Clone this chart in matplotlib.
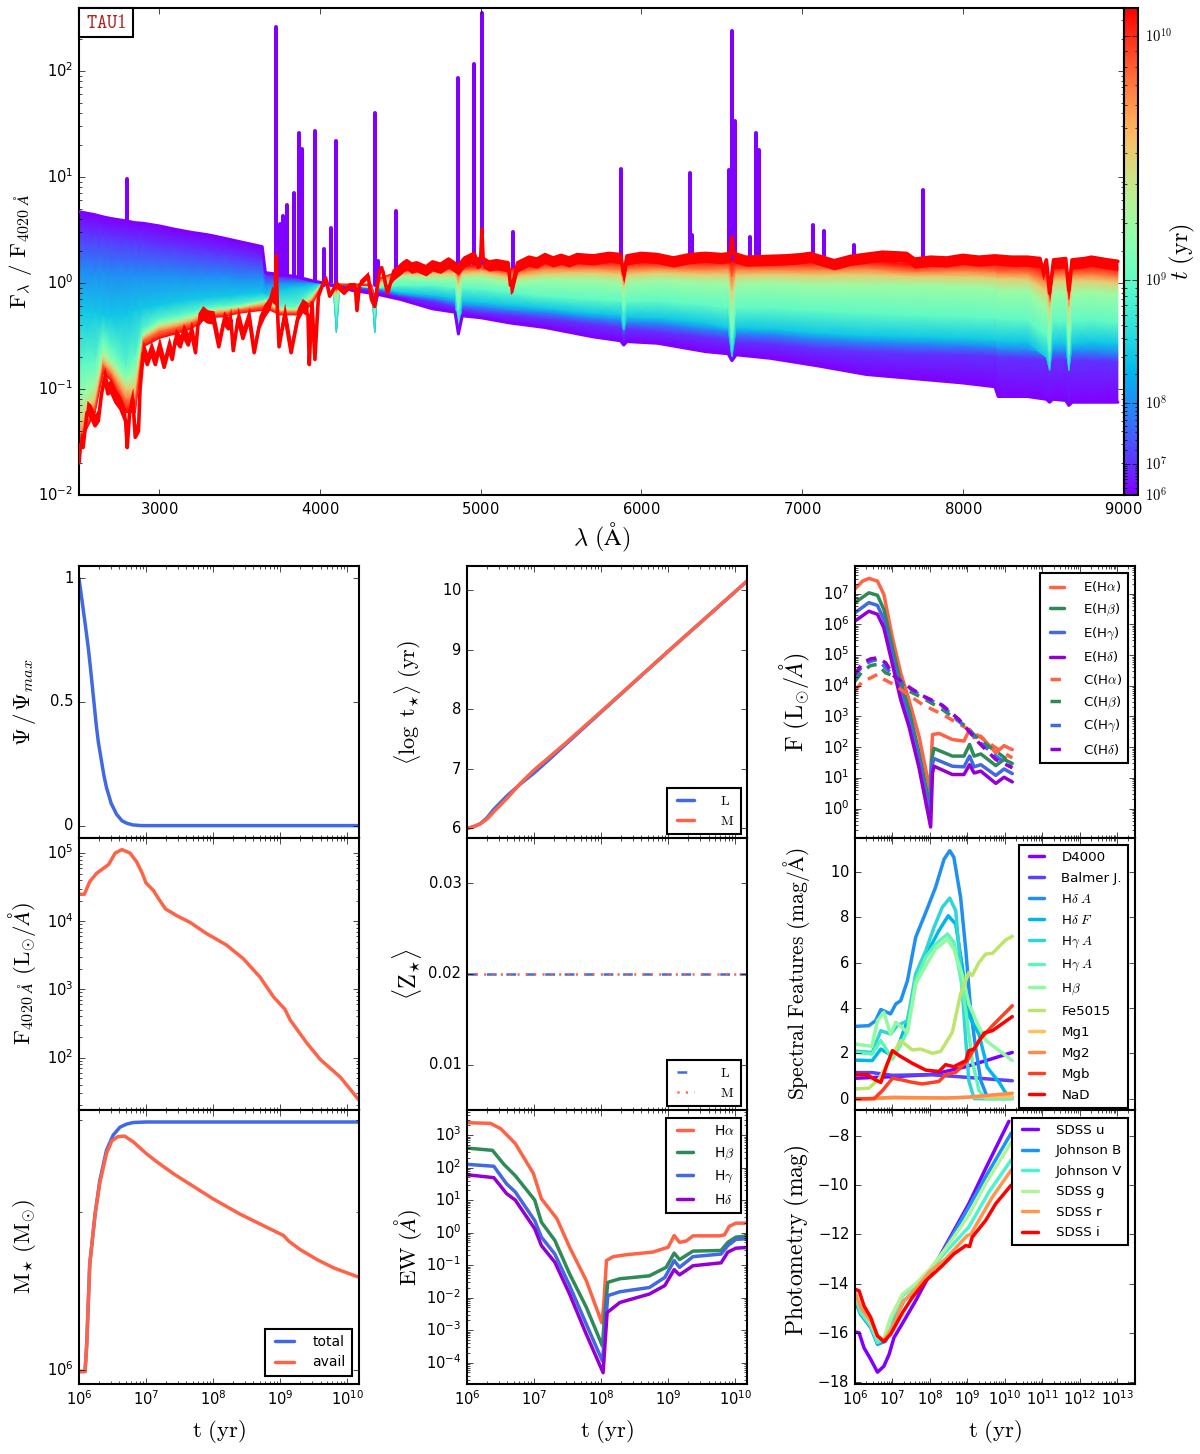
import numpy as np
import matplotlib
matplotlib.use('Agg')
import matplotlib.pyplot as plt
from matplotlib.colors import FuncNorm
from matplotlib.cm import ScalarMappable
from matplotlib.patches import Rectangle
from matplotlib.ticker import LogLocator, NullFormatter, FixedLocator

# ---------------- spectrum data ----------------
WAVE = [2500,2600,2650,2700,2790,2850,2900,3000,3100,3200,
        3300,3400,3500,3640,3660,3750,3850,3950,4020,4080,
        4102,4125,4200,4320,4340,4360,4500,4700,4840,4861,
        4885,5000,5180,5400,5700,5870,5890,5910,6100,6400,
        6540,6563,6590,6800,7100,7400,7700,8000,8200,8220,
        8400,8520,8540,8560,8640,8660,8680,8800,8965]
AGES = [1e6, 1e7, 1e8, 3e8, 1e9, 2e9, 4e9, 7e9, 1.2e10]
F_1E6 = [4.7,4.4,4.2,4.05,3.85,3.7,3.65,3.45,3.2,3.0,
         2.85,2.65,2.45,2.2,1.25,1.2,1.15,1.05,1.0,.95,
         .92,.92,.85,.8,.62,.78,.70,.57,.53,.33,
         .49,.47,.42,.38,.31,.285,.26,.28,.27,.225,
         .215,.185,.21,.195,.165,.137,.125,.114,.105,.085,
         .085,.08,.075,.08,.078,.07,.075,.075,.075]
F_1E7 = [3.0,2.85,2.8,2.7,2.6,2.5,2.45,2.3,2.2,2.1,
         2.0,1.9,1.8,1.65,1.15,1.12,1.1,1.02,1.0,.97,
         .93,.95,.90,.86,.68,.84,.75,.67,.6,.36,
         .56,.53,.5,.46,.41,.38,.33,.37,.35,.31,
         .29,.24,.28,.27,.24,.225,.215,.21,.205,.2,
         .195,.19,.185,.19,.19,.18,.185,.185,.18]
F_1E8 = [1.3,1.25,1.25,1.2,1.2,1.2,1.2,1.2,1.2,1.15,
         1.15,1.15,1.1,1.1,.95,1.0,1.0,1.0,1.0,.98,
         .9,.97,.93,.9,.7,.88,.78,.72,.66,.42,
         .62,.6,.56,.53,.47,.45,.38,.43,.42,.37,
         .35,.27,.34,.33,.3,.28,.27,.26,.25,.24,
         .235,.22,.17,.23,.23,.17,.23,.23,.22]
F_3E8 = [.55,.52,.5,.48,.5,.55,.58,.62,.66,.7,
         .72,.74,.77,.8,.78,.85,.9,.95,1.0,.98,
         .34,.98,.95,.92,.34,.9,.82,.77,.72,.33,
         .68,.66,.62,.58,.52,.5,.36,.48,.47,.42,
         .38,.2,.38,.37,.34,.32,.31,.3,.29,.285,
         .28,.2,.15,.27,.27,.15,.27,.28,.27]
F_1E9 = [.16,.18,.3,.24,.16,.2,.36,.45,.48,.52,
         .58,.6,.62,.68,.7,.6,.6,.8,1.0,.95,
         .5,.95,.95,.9,.5,.9,.95,.95,.9,.55,
         .9,.88,.82,.75,.7,.68,.55,.67,.68,.62,
         .58,.3,.58,.58,.55,.52,.5,.48,.47,.46,
         .45,.32,.22,.44,.44,.22,.44,.45,.42]
F_2E9 = [.08,.11,.22,.18,.12,.14,.33,.41,.44,.48,
         .55,.57,.6,.66,.68,.57,.57,.75,1.0,.95,
         .7,.98,.97,.95,.65,.95,1.15,1.1,1.1,.8,
         1.1,1.12,1.0,1.08,1.05,1.0,.8,1.0,1.05,1.0,
         .98,.55,.98,1.0,.95,.95,.95,.92,.9,.85,
         .85,.6,.4,.8,.8,.4,.8,.82,.78]
F_4E9 = [.045,.08,.19,.16,.1,.1,.31,.38,.41,.45,
         .53,.55,.58,.64,.65,.55,.55,.72,1.0,.95,
         .8,.98,.98,.97,.7,1.0,1.2,1.22,1.22,1.0,
         1.22,1.25,1.12,1.22,1.25,1.2,.95,1.2,1.25,1.2,
         1.2,.85,1.18,1.2,1.18,1.2,1.15,1.15,1.12,1.1,
         1.08,.85,.6,1.05,1.05,.6,1.05,1.05,1.0]
F_7E9 = [.035,.07,.17,.14,.08,.08,.29,.35,.38,.42,
         .5,.52,.56,.6,.62,.53,.53,.68,1.0,.95,
         .85,.98,.98,.97,.72,1.05,1.28,1.32,1.32,1.15,
         1.32,1.35,1.22,1.38,1.38,1.35,1.05,1.35,1.38,1.35,
         1.38,1.15,1.35,1.35,1.35,1.38,1.28,1.32,1.28,1.25,
         1.25,1.05,.75,1.2,1.22,.7,1.2,1.22,1.15]
F_12E9 = [.03,.06,.14,.12,.06,.06,.25,.3,.33,.37,
          .47,.48,.52,.55,.58,.5,.5,.62,1.0,.95,
          .9,.95,.95,.95,.75,1.1,1.3,1.4,1.45,1.3,
          1.45,1.5,1.35,1.65,1.65,1.65,1.15,1.6,1.65,1.65,
          1.65,1.6,1.65,1.6,1.65,1.65,1.5,1.6,1.6,1.55,
          1.55,1.45,.85,1.45,1.5,.8,1.45,1.5,1.45]

OLD_SPECTRUM = [(2500,.02),(2510,.03),(2525,.028),(2550,.06),(2575,.055),(2600,.045),(2620,.05),(2640,.09),(2660,.125),
    (2680,.09),(2700,.095),(2730,.075),(2760,.065),(2790,.05),(2800,.028),(2815,.06),(2835,.08),(2850,.035),
    (2870,.04),(2880,.1),(2900,.22),(2925,.17),(2950,.22),(2975,.17),(3000,.24),(3030,.16),(3060,.24),(3080,.19),(3100,.29),
    (3130,.25),(3150,.32),(3180,.26),(3200,.34),(3225,.22),(3240,.4),(3270,.47),(3300,.43),(3340,.42),(3370,.25),(3400,.42),(3430,.37),
    (3445,.45),(3460,.23),(3490,.46),(3520,.30),(3560,.46),(3590,.22),(3620,.38),(3650,.48),(3680,.56),(3700,.72),
    (3720,.65),(3727,1.8),(3734,.6),(3745,.25),(3780,.5),(3820,.22),(3860,.45),(3890,.55),(3925,.5),(3933,.17),
    (3950,.65),(3968,.19),(3990,.75),(4020,1.0),(4040,1.05),(4060,.75),(4100,.95),(4150,.80),(4180,.9),
    (4220,.9),(4230,.55),(4245,.95),(4300,1.15),(4320,.7),(4340,.6),(4370,1.3),(4390,1.3),(4420,.8),(4460,1.3),
    (4500,1.45),(4520,1.55),(4540,1.62),(4570,1.5),(4600,1.55),(4660,1.42),(4700,1.58),(4750,1.5),(4800,1.68),(4861,1.45),(4900,1.72),
    (4959,1.9),(4975,1.65),(5000,1.72),(5007,3.2),(5015,1.7),(5050,1.58),(5100,1.62),(5170,1.55),(5185,.95),
    (5200,1.0),(5230,1.55),(5300,1.75),(5350,1.68),(5400,1.85),(5450,1.72),(5500,1.82),(5550,1.72),(5600,1.85),
    (5700,1.8),(5800,1.9),(5870,1.85),(5890,1.2),(5910,1.8),(6000,1.9),(6100,1.85),(6200,1.72),(6300,1.85),
    (6400,1.9),(6500,1.85),(6555,1.9),(6563,2.7),(6575,1.9),(6650,1.75),(6800,1.78),(6900,1.8),(7000,1.85),
    (7050,1.9),(7100,1.8),(7200,1.62),(7300,1.78),(7500,1.95),(7650,1.9),(7700,1.68),(7800,1.75),(7900,1.72),
    (8000,1.82),(8100,1.75),(8200,1.8),(8300,1.75),(8400,1.75),(8480,1.7),(8500,1.3),(8520,1.65),(8540,.8),(8565,1.65),
    (8640,1.7),(8660,.85),(8680,1.65),(8760,1.7),(8800,1.75),(8900,1.65),(8965,1.6)]

LINE_WAVE = [2800,3727,3752,3771,3797,3835,3869,3889,3970,4026,4069,4102,4340,4363,4471,4861,4959,5007,5200,
             5876,6300,6312,6548,6563,6584,6678,6716,6731,7065,7136,7325,7751]
LINE_PEAK = [9.5,260,3.6,4.3,5.4,7,26,18.5,27,2.1,3.3,22,40,1.6,4.8,85,115,350,3.0,
             12,11,2.85,11.7,240,34,2.7,26,18,3.5,3.1,2.3,7.5]

# ---------------- time panels (pairs of log10 t, value) ----------------
SFH = [(6.0,1.0),(6.05,.9),(6.1,.8),(6.14,.715),(6.17,.64),(6.2,.56),(6.23,.48),(6.26,.40),(6.29,.335),(6.33,.27),(6.37,.205),(6.41,.154),(6.48,.09),
       (6.56,.046),(6.64,.02),(6.71,.01),(6.8,.003),(6.91,.0005),(7.0,0),(8.0,0),(10.18,0)]
LOG_F4020 = [(6.0,4.395),(6.08,4.395),(6.16,4.58),(6.26,4.70),(6.44,4.83),(6.54,5.0),(6.64,5.05),(6.76,5.0),
             (6.86,4.87),(6.94,4.71),(7.0,4.56),(7.11,4.45),(7.18,4.34),(7.29,4.18),(7.46,4.08),(7.66,3.98),
             (7.9,3.82),(8.2,3.65),(8.45,3.45),(8.7,3.18),(8.9,2.89),(9.07,2.71),(9.15,2.55),(9.4,2.21),
             (9.6,1.97),(9.9,1.71),(10.18,1.37)]
LOG_M_TOTAL = [(6.0,5.997),(6.09,5.997),(6.115,6.048),(6.16,6.202),(6.24,6.298),(6.31,6.362),(6.41,6.420),
               (6.51,6.449),(6.61,6.464),(6.71,6.470),(6.81,6.473),(7.0,6.474),(10.18,6.474)]
LOG_M_AVAIL = [(6.0,5.997),(6.09,5.997),(6.115,6.048),(6.16,6.202),(6.24,6.298),(6.31,6.357),(6.41,6.414),
               (6.49,6.438),(6.58,6.446),(6.68,6.447),(6.81,6.436),(7.0,6.414),(7.16,6.398),(7.41,6.375),
               (8.0,6.327),(8.4,6.298),(9.05,6.257),(9.13,6.246),(9.3,6.230),(9.55,6.211),(9.8,6.195),(10.18,6.177)]
LOGT_L = [(6.0,6.0),(6.1,6.03),(6.2,6.08),(6.3,6.18),(6.4,6.32),(6.6,6.55),(6.8,6.75),(7.0,6.93),(7.2,7.13),
          (7.5,7.44),(8.0,7.95),(9.0,8.97),(10.18,10.15)]
LOGT_M = [(6.0,6.0),(6.1,6.03),(6.2,6.08),(6.3,6.16),(6.4,6.28),(6.6,6.51),(6.8,6.76),(7.0,6.98),(7.2,7.17),
          (7.5,7.46),(8.0,7.96),(9.0,8.97),(10.18,10.15)]
Z_L = [(6.0,.02),(10.18,.02)]
Z_M = [(6.0,.02),(10.18,.02)]

EW_HA = [(6.0,3.38),(6.35,3.36),(6.5,3.2),(6.72,2.74),(6.99,1.82),(7.11,1.04),(7.34,.43),(7.53,-.45),(7.78,-1.48),
         (8.01,-2.77),(8.04,-2.2),(8.08,-.86),(8.18,-.74),(8.38,-.68),(8.77,-.6),(9.0,-.45),(9.09,-.09),(9.17,-.3),
         (9.27,-.26),(9.37,-.1),(9.76,-.1),(9.84,-.07),(9.91,.19),(10.01,.29),(10.16,.29)]
EW_HB = [(6.0,2.6),(6.38,2.53),(6.55,2.1),(6.72,1.75),(7.01,1.0),(7.11,.32),(7.31,-.24),(7.53,-1.27),(7.78,-2.3),
         (8.02,-3.49),(8.05,-2.6),(8.1,-1.53),(8.28,-1.42),(8.72,-1.33),(8.97,-1.07),(9.09,-.63),(9.17,-.83),
         (9.37,-.57),(9.79,-.55),(9.89,-.3),(10.01,-.14),(10.16,-.11)]
EW_HG = [(6.0,2.1),(6.4,2.04),(6.59,1.5),(6.72,1.25),(7.01,.37),(7.11,-.14),(7.31,-.66),(7.53,-1.63),(7.78,-2.82),
         (8.02,-3.95),(8.05,-3.23),(8.1,-1.94),(8.28,-1.82),(8.72,-1.69),(8.95,-1.38),(9.09,-.86),(9.17,-1.07),
         (9.37,-.74),(9.79,-.66),(9.89,-.4),(10.01,-.21),(10.16,-.19)]
EW_HD = [(6.0,1.78),(6.4,1.69),(6.59,1.2),(6.72,1.0),(7.01,.12),(7.11,-.4),(7.31,-.91),(7.53,-1.89),(7.78,-3.13),
         (8.03,-4.31),(8.09,-2.46),(8.28,-2.15),(8.72,-1.89),(8.95,-1.63),(9.09,-1.14),(9.17,-1.3),(9.37,-1.02),
         (9.79,-.93),(9.89,-.6),(10.01,-.48),(10.16,-.46)]

E_HA = [(6.0,7.16),(6.2,7.41),(6.37,7.5),(6.6,7.41),(6.77,6.98),(7.0,5.57),(7.22,4.42),(7.44,3.55),(7.71,2.35),
        (7.98,.73),(8.0,.62),(8.07,2.41),(8.24,2.45),(8.6,2.25),(8.91,2.2),(9.06,2.58),(9.18,2.31),(9.36,2.36),
        (9.76,1.82),(9.98,2.05),(10.2,1.92)]
E_HB = [(6.0,6.71),(6.37,7.03),(6.6,6.95),(6.77,6.49),(7.0,5.24),(7.22,4.1),(7.44,3.23),(7.71,1.82),(8.0,.08),
        (8.05,1.6),(8.11,1.96),(8.6,1.71),(8.91,1.71),(9.06,2.09),(9.18,1.71),(9.36,1.78),(9.76,1.4),(9.98,1.6),(10.2,1.47)]
E_HG = [(6.0,6.38),(6.37,6.71),(6.6,6.62),(6.77,6.16),(7.0,4.97),(7.22,3.83),(7.44,2.96),(7.71,1.6),(8.0,-.25),
        (8.05,1.38),(8.11,1.63),(8.6,1.38),(8.91,1.36),(9.06,1.71),(9.18,1.36),(9.36,1.43),(9.76,1.08),(9.98,1.29),(10.2,1.14)]
E_HD = [(6.0,6.11),(6.37,6.43),(6.6,6.33),(6.77,5.89),(7.0,4.7),(7.22,3.55),(7.44,2.68),(7.71,1.33),(8.02,-.6),
        (8.07,1.16),(8.11,1.38),(8.6,1.11),(8.91,1.11),(9.06,1.43),(9.18,1.16),(9.36,1.22),(9.76,.82),(9.98,1.02),(10.2,.87)]
C_HA = [(6.0,3.83),(6.2,4.15),(6.37,4.23),(6.6,4.37),(6.77,4.21),(7.04,4.04),(7.35,3.77),(7.8,3.39),(8.33,3.07),
        (8.96,2.63),(9.31,2.36),(9.76,1.98),(10.2,1.65)]
C_HB = [(6.0,4.15),(6.2,4.48),(6.42,4.66),(6.6,4.7),(6.82,4.42),(7.04,4.32),(7.44,3.83),(7.8,3.61),(8.33,3.23),
        (8.96,2.68),(9.31,2.25),(9.76,1.87),(10.2,1.47)]
C_HG = [(6.0,4.32),(6.2,4.66),(6.42,4.8),(6.6,4.86),(6.82,4.59),(7.04,4.32),(7.44,3.93),(7.8,3.66),(8.33,3.34),
        (8.78,2.85),(9.31,2.18),(9.76,1.71),(10.2,1.33)]
C_HD = [(6.0,4.37),(6.2,4.75),(6.42,4.88),(6.6,4.91),(6.82,4.75),(7.04,4.32),(7.44,3.96),(7.8,3.68),(8.33,3.37),
        (8.78,2.9),(9.31,2.14),(9.76,1.6),(10.2,1.33)]

D4000 = [(6.0,.9),(7.0,.97),(7.98,1.06),(8.42,1.2),(8.96,1.41),(9.5,1.68),(10.2,2.04)]
BALMER = [(6.0,1.15),(6.46,1.15),(7.0,1.03),(7.98,1.06),(8.6,.99),(9.31,.9),(10.2,.79)]
HD_A = [(6.0,3.19),(6.37,3.22),(6.55,3.44),(6.69,3.93),(6.95,3.74),(7.09,4.18),(7.22,4.32),(7.4,5.2),(7.62,7.12),
        (7.89,8.22),(8.15,9.32),(8.38,10.57),(8.53,10.94),(8.64,10.65),(8.82,8.88),(8.96,6.53),(9.09,3.88),
        (9.22,2.26),(9.36,.79),(9.5,.2)]
HD_F = [(6.0,1.7),(6.46,1.68),(6.69,2.19),(6.91,1.97),(7.09,2.04),(7.4,3.44),(7.67,5.5),(7.98,6.6),(8.24,7.41),
        (8.49,8.07),(8.69,7.7),(8.87,5.79),(9.04,3.66),(9.31,2.85),(9.53,1.38),(9.85,.72),(10.07,.13)]
HG_A = [(6.0,2.1),(6.46,2.04),(6.69,3.0),(6.95,2.85),(7.13,3.22),(7.4,3.44),(7.62,5.5),(7.89,6.53),(8.11,7.56),
        (8.33,8.44),(8.53,8.85),(8.69,8.29),(8.82,5.79),(8.96,2.56),(9.04,.79),(9.18,0),(10.2,0)]
HG_A2 = [(6.0,2.04),(6.46,1.97),(6.69,2.56),(7.0,1.75),(7.18,2.26),(7.4,3.0),(7.62,5.2),(7.89,6.24),(8.15,6.82),
         (8.47,7.26),(8.64,6.9),(8.82,5.35),(8.96,3.88),(9.13,1.68),(9.31,.35),(9.5,0),(10.2,0)]
H_BETA = [(6.0,2.41),(6.45,2.31),(6.6,3.44),(6.77,3.81),(6.95,2.85),(7.09,3.37),(7.4,2.93),(7.62,5.06),(7.89,5.87),
          (8.15,6.6),(8.47,7.04),(8.64,6.6),(8.87,5.43),(9.04,4.18),(9.27,3.29),(9.5,2.56),(10.2,1.68)]
FE5015 = [(6.0,.43),(6.37,.46),(6.64,.87),(6.86,1.53),(7.09,2.19),(7.22,2.56),(7.53,2.15),(7.75,2.19),(8.07,2.0),
          (8.29,2.09),(8.6,2.93),(8.82,4.62),(9.04,5.57),(9.13,5.43),(9.31,6.01),(9.49,6.38),(9.67,6.41),(10.02,7.0),(10.2,7.16)]
MG1 = [(6.0,-.03),(7.0,.03),(8.42,.03),(8.96,.06),(10.2,.09)]
MG2 = [(6.0,-.03),(7.0,.06),(8.42,.03),(8.96,.06),(10.2,.24)]
MGB = [(6.0,0),(6.51,0),(6.73,.35),(7.0,.9),(7.22,.84),(7.53,.72),(7.8,.65),(8.24,.76),(8.42,1.06),(8.69,1.16),
       (9.0,1.68),(9.31,2.56),(9.67,3.22),(10.2,4.1)]
NAD = [(6.0,1.06),(6.33,1.06),(6.55,.82),(6.69,.72),(6.86,1.53),(7.0,2.12),(7.18,1.9),(7.53,1.56),(7.89,1.26),
       (8.24,1.2),(8.42,1.5),(8.64,1.41),(8.96,1.68),(9.04,2.12),(9.18,2.19),(9.45,2.9),(9.67,3.0),(10.2,3.62)]

U_MAG = [(6.0,-15.96),(6.11,-15.99),(6.24,-16.6),(6.42,-17.07),(6.6,-17.59),(6.77,-17.35),(6.91,-16.87),(7.04,-16.19),
         (7.31,-15.5),(7.62,-14.69),(7.98,-13.67),(8.42,-12.45),(9.04,-10.75),(9.49,-9.32),(10.11,-7.41)]
B_MAG = [(6.0,-14.69),(6.15,-15.24),(6.42,-15.78),(6.6,-16.46),(6.82,-16.33),(7.04,-15.5),(7.31,-14.69),(7.62,-14.25),
         (7.98,-13.6),(8.42,-12.52),(9.04,-10.88),(9.49,-9.66),(10.17,-7.89)]
V_MAG = [(6.0,-14.49),(6.15,-15.17),(6.42,-15.71),(6.6,-16.39),(6.82,-16.19),(7.0,-15.37),(7.27,-14.49),(7.62,-14.08),
         (7.98,-13.47),(8.42,-12.72),(9.04,-11.7),(9.58,-10.27),(10.17,-8.98)]
G_MAG = [(6.0,-14.42),(6.15,-14.97),(6.42,-15.58),(6.6,-16.19),(6.77,-16.26),(6.95,-15.37),(7.27,-14.42),(7.62,-14.01),
         (7.98,-13.44),(8.42,-12.58),(9.04,-11.22),(9.49,-9.93),(10.17,-8.27)]
R_MAG = [(6.0,-14.35),(6.15,-14.97),(6.42,-15.51),(6.6,-16.12),(6.77,-16.3),(7.0,-15.78),(7.27,-14.76),(7.62,-14.22),
         (7.98,-13.54),(8.42,-12.99),(9.0,-12.04),(9.09,-12.0),(9.67,-10.48),(10.17,-9.39)]
I_MAG = [(6.0,-14.22),(6.11,-14.29),(6.24,-14.9),(6.42,-15.37),(6.6,-16.12),(6.77,-16.35),(6.95,-16.05),(7.27,-15.17),
         (7.53,-14.56),(7.89,-13.88),(8.33,-13.27),(8.64,-12.79),(8.96,-12.45),(9.06,-12.49),(9.13,-12.11),(9.49,-11.43),
         (9.76,-10.75),(10.17,-10.0)]

COL_TOM, COL_SEA, COL_ROY, COL_VIO = '#ff6347', '#2e8b57', '#4169e1', '#9400d3'
FEAT_COLORS = ['#8000ff','#5a40ff','#2090f0','#00b8e8','#30d5d8','#60f5b8','#90faa0','#bde56b','#ffc060','#ff8c4f','#ff4020','#ff0000']
PHOT_COLORS = ['#8000ff','#1996f3','#4df3ce','#b2f396','#ff964f','#ff0000']

# ---------------- figure ----------------
plt.style.use('classic')
plt.rcParams.update({
    'figure.dpi': 100, 'savefig.dpi': 100, 'figure.facecolor': 'white', 'savefig.facecolor': 'white',
    'mathtext.fontset': 'cm', 'axes.linewidth': 1.5, 'font.family': 'DejaVu Sans',
    'xtick.labelsize': 10.6, 'ytick.labelsize': 10.6, 'xtick.major.size': 4.5, 'ytick.major.size': 4.5,
    'xtick.minor.size': 2.5, 'ytick.minor.size': 2.5, 'lines.solid_capstyle': 'round',
    'legend.numpoints': 2, 'axes.formatter.use_mathtext': True,
})
W, H = 1200, 1454
fig = plt.figure(figsize=(W/100, H/100))

def px_axes(x0, y0, x1, y1):
    return fig.add_axes([x0/W, 1-y1/H, (x1-x0)/W, (y1-y0)/H])

def xy(pairs):
    a = np.array(pairs, dtype=float)
    return 10.0**a[:, 0], a[:, 1]

def logy(pairs):
    a = np.array(pairs, dtype=float)
    return 10.0**a[:, 0], 10.0**a[:, 1]

def log_ticks(axis):
    axis.set_major_locator(LogLocator(base=10, numticks=60))
    axis.set_minor_locator(LogLocator(base=10, subs=np.arange(2, 10), numticks=60))
    axis.set_minor_formatter(NullFormatter())

LABEL = 16.5
age_norm = FuncNorm((lambda a: np.asarray(a, float)**0.3, lambda v: np.asarray(v, float)**(1/0.3)), vmin=1e6, vmax=1.2e10)
cmap = plt.get_cmap('rainbow')

# top spectrum panel
ax = px_axes(79, 8, 1123.5, 495)
ax.set_yscale('log')
ax.vlines(LINE_WAVE, 0.95, LINE_PEAK, colors=[cmap(0.0)], lw=2.9, capstyle='round', zorder=1)
levels = np.array([F_1E6, F_1E7, F_1E8, F_3E8, F_1E9, F_2E9, F_4E9, F_7E9, F_12E9])
X = np.tile(np.array(WAVE, float), (len(AGES), 1))
C = np.tile(np.array(AGES)[:, None], (1, len(WAVE)))
ax.pcolormesh(X, levels, C, shading='gouraud', cmap=cmap, norm=age_norm, zorder=2)
ax.plot(WAVE, F_1E6, color=cmap(0.0), lw=2.2, zorder=3)
ox, oy = np.array(OLD_SPECTRUM, dtype=float).T
# the oldest spectrum is a thick red band: it widens upward on the blue side and downward on the red side
band = np.where(ox < 3950, 1.3, np.where(ox < 4450, 1.12, 0.82))
ax.fill_between(ox, oy, oy*band, color='#ff0000', lw=0, zorder=4)
ax.plot(ox, oy, color='#ff0000', lw=2.6, zorder=4)
ax.set_xlim(2500, 9000)
ax.set_ylim(0.01, 392)
ax.set_xticks([3000, 4000, 5000, 6000, 7000, 8000, 9000])
log_ticks(ax.yaxis)
ax.set_xlabel(r'$\lambda\ (\mathrm{\AA})$', fontsize=LABEL+1)
ax.xaxis.set_label_coords(0.5, -0.054)
ax.set_ylabel(r'$\mathrm{F}_{\lambda}\ /\ \mathrm{F}_{4020\ \AA}$', fontsize=LABEL)
ax.yaxis.set_label_coords(-0.043, 0.5)
ax.add_patch(Rectangle((0, 1-29/487), 54/1044.5, 29/487, transform=ax.transAxes, fc='white', ec='black', lw=1.5, zorder=10, clip_on=False))
ax.text(27/1044.5, 1-14.5/487, r'$\mathtt{TAU1}$', transform=ax.transAxes, color='#b22222', fontsize=14, ha='center', va='center', zorder=11)

# colorbar
cax = px_axes(1124, 8, 1138, 495)
cb = fig.colorbar(ScalarMappable(norm=age_norm, cmap=cmap), cax=cax)
cb.set_ticks([1e6, 1e7, 1e8, 1e9, 1e10])
cb.set_ticklabels([r'$10^{6}$', r'$10^{7}$', r'$10^{8}$', r'$10^{9}$', r'$10^{10}$'])
cax.yaxis.set_minor_locator(FixedLocator([m*10**d for d in range(6, 11) for m in range(2, 10) if m*10**d <= 1.2e10]))
cax.yaxis.set_minor_formatter(NullFormatter())
cax.tick_params(axis='y', which='both', direction='in', right=True, left=True, labelsize=10.5, pad=5)
cax.set_ylabel(r'$t\ (\mathrm{yr})$', fontsize=LABEL+1)
cax.yaxis.set_label_coords(3.15, 0.5)
cb.outline.set_linewidth(1.5)

COLS = [(79, 359), (467, 747), (855, 1135)]
ROWS = [(566, 838), (838, 1110), (1110, 1384)]

def panel(col, row):
    x0, x1 = COLS[col]
    y0, y1 = ROWS[row]
    a = px_axes(x0, y0, x1, y1)
    a.set_xscale('log')
    a.set_xlim(1e6, 3e13 if col == 2 else 1.5e10)
    log_ticks(a.xaxis)
    if row < 2:
        a.tick_params(axis='x', labelbottom=False)
    else:
        a.set_xlabel(r'$\mathrm{t\ (yr)}$', fontsize=LABEL)
        a.xaxis.set_label_coords(0.5, -0.123)
    a.yaxis.set_label_coords(-0.147 if col == 0 else (-0.155 if col == 1 else -0.152), 0.5)
    return a

def legend(a, right, top, fs=9.0, spacing=0.62, hl=2.0, pad=0.45, tp=1.1):
    return a.legend(loc='upper right', bbox_to_anchor=(right/W, 1-top/H), bbox_transform=fig.transFigure,
                    borderaxespad=0, fontsize=fs, labelspacing=spacing, handlelength=hl, borderpad=pad,
                    handletextpad=tp, fancybox=False, framealpha=1, edgecolor='black').get_frame().set_linewidth(1.5)

LW = 2.5
# col 0
a = panel(0, 0)
t, v = xy(SFH); a.plot(t, v, color=COL_ROY, lw=LW)
a.set_ylim(-0.05, 1.05); a.set_yticks([0, 0.5, 1]); a.set_yticklabels(['0', '0.5', '1'])
a.set_ylabel(r'$\Psi\,/\,\Psi_{max}$', fontsize=LABEL)

a = panel(0, 1)
t, v = logy(LOG_F4020); a.plot(t, v, color=COL_TOM, lw=LW)
a.set_yscale('log'); a.set_ylim(17, 1.66e5); log_ticks(a.yaxis)
a.set_ylabel(r'$\mathrm{F}_{4020\ \AA}\ (\mathrm{L}_{\odot}/\AA)$', fontsize=LABEL)

a = panel(0, 2)
t, v = logy(LOG_M_TOTAL); a.plot(t, v, color=COL_ROY, lw=LW, label='total')
t, v = logy(LOG_M_AVAIL); a.plot(t, v, color=COL_TOM, lw=LW, label='avail')
a.set_yscale('log'); a.set_ylim(9.4e5, 3.14e6)
a.yaxis.set_major_locator(LogLocator(base=10, numticks=10))
a.yaxis.set_minor_locator(FixedLocator([2e6, 3e6])); a.yaxis.set_minor_formatter(NullFormatter())
a.set_ylabel(r'$\mathrm{M}_{\star}\ (\mathrm{M}_{\odot})$', fontsize=LABEL)
legend(a, 352, 1329, fs=10, spacing=0.45, hl=2.0, tp=1.0)

# col 1
a = panel(1, 0)
t, v = xy(LOGT_L); a.plot(t, v, color=COL_ROY, lw=LW, label=r'$\mathrm{L}$')
t, v = xy(LOGT_M); a.plot(t, v, color=COL_TOM, lw=LW, label=r'$\mathrm{M}$')
a.set_ylim(5.84, 10.4); a.set_yticks([6, 7, 8, 9, 10])
a.set_ylabel(r'$\langle\mathrm{\log\ t}_{\star}\rangle\ (\mathrm{yr})$', fontsize=LABEL-0.5)
legend(a, 740.7, 787.5, fs=10, spacing=0.42, hl=1.8, tp=1.6)

a = panel(1, 1)
t, v = xy(Z_L); a.plot(t, v, color=COL_ROY, lw=LW-0.7, ls=(0, (7, 7)), label=r'$\mathrm{L}$')
t, v = xy(Z_M); a.plot(t, v, color=COL_TOM, lw=LW-0.7, ls=(0, (1.5, 4.5)), label=r'$\mathrm{M}$')
a.set_ylim(0.005, 0.035); a.set_yticks([0.01, 0.02, 0.03]); a.set_yticklabels(['0.01', '0.02', '0.03'])
a.set_ylabel(r'$\langle\mathrm{Z}_{\star}\rangle$', fontsize=LABEL+1)
legend(a, 740.7, 1060, fs=10, spacing=0.42, hl=1.8, tp=1.6)

a = panel(1, 2)
for s, c, l in [(EW_HA, COL_TOM, r'H$\alpha$'), (EW_HB, COL_SEA, r'H$\beta$'), (EW_HG, COL_ROY, r'H$\gamma$'), (EW_HD, COL_VIO, r'H$\delta$')]:
    t, v = logy(s); a.plot(t, v, color=c, lw=LW, label=l)
a.set_yscale('log'); a.set_ylim(2.2e-5, 5900); log_ticks(a.yaxis)
a.set_ylabel(r'$\mathrm{EW}\ (\AA)$', fontsize=LABEL)
legend(a, 740.7, 1118, fs=10, spacing=0.52, hl=1.75, tp=1.2)

# col 2
a = panel(2, 0)
for s, c, l in [(E_HA, COL_TOM, r'E(H$\alpha$)'), (E_HB, COL_SEA, r'E(H$\beta$)'), (E_HG, COL_ROY, r'E(H$\gamma$)'), (E_HD, COL_VIO, r'E(H$\delta$)')]:
    t, v = logy(s); a.plot(t, v, color=c, lw=LW, label=l)
for s, c, l in [(C_HA, COL_TOM, r'C(H$\alpha$)'), (C_HB, COL_SEA, r'C(H$\beta$)'), (C_HG, COL_ROY, r'C(H$\gamma$)'), (C_HD, COL_VIO, r'C(H$\delta$)')]:
    t, v = logy(s); a.plot(t, v, color=c, lw=LW, ls=(0, (7.5, 5.5)), label=l)
a.set_yscale('log'); a.set_ylim(0.11, 8e7); log_ticks(a.yaxis)
a.set_ylabel(r'$\mathrm{F}\ (\mathrm{L}_{\odot}/\AA)$', fontsize=LABEL+1)
legend(a, 1128.3, 573.3, fs=9.6, spacing=0.56, hl=1.65, tp=1.15)

a = panel(2, 1)
FEATS = [D4000, BALMER, HD_A, HD_F, HG_A, HG_A2, H_BETA, FE5015, MG1, MG2, MGB, NAD]
FEAT_NAMES = ['D4000', 'Balmer J.', r'H$\delta\ A$', r'H$\delta\ F$', r'H$\gamma\ A$', r'H$\gamma\ A$', r'H$\beta$', 'Fe5015', 'Mg1', 'Mg2', 'Mgb', 'NaD']
for s, c, l in zip(FEATS, FEAT_COLORS, FEAT_NAMES):
    t, v = xy(s); a.plot(t, v, color=c, lw=LW, label=l)
a.set_ylim(-0.5, 11.5); a.set_yticks([0, 2, 4, 6, 8, 10])
a.set_ylabel(r'$\mathrm{Spectral\ Features\ (mag/\AA)}$', fontsize=LABEL-1)
legend(a, 1128, 845, fs=9.6, spacing=0.60, hl=1.75, tp=1.0)

a = panel(2, 2)
for s, c, l in zip([U_MAG, B_MAG, V_MAG, G_MAG, R_MAG, I_MAG], PHOT_COLORS, ['SDSS u', 'Johnson B', 'Johnson V', 'SDSS g', 'SDSS r', 'SDSS i']):
    t, v = xy(s); a.plot(t, v, color=c, lw=LW, label=l)
a.set_ylim(-18.07, -6.95); a.set_yticks([-18, -16, -14, -12, -10, -8])
a.set_ylabel(r'$\mathrm{Photometry\ (mag)}$', fontsize=LABEL+0.5)
a.yaxis.set_label_coords(-0.152, 0.525)
legend(a, 1128, 1118, fs=9.6, spacing=0.56, hl=1.8, tp=1.0)

fig.savefig('out.png', dpi=100)
